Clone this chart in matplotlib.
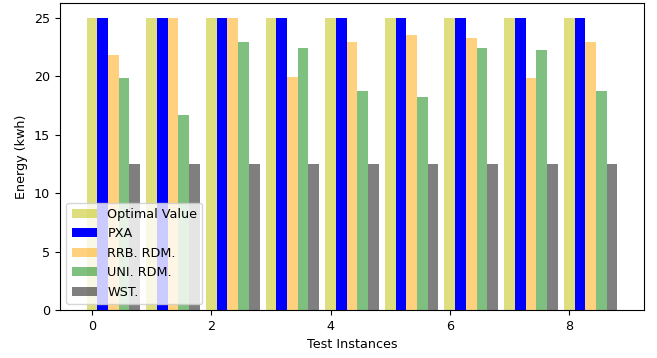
import matplotlib
matplotlib.use("Agg")
import matplotlib.pyplot as plt
import numpy as np

instances = np.arange(9)
optimal = [25, 25, 25, 25, 25, 25, 25, 25, 25]
pxa = [25, 25, 25, 25, 25, 25, 25, 25, 25]
rrb_rdm = [21.8, 25, 25, 19.9, 22.9, 23.5, 23.3, 19.8, 22.9]
uni_rdm = [19.8, 16.7, 22.9, 22.4, 18.7, 18.2, 22.4, 22.2, 18.7]
wst = [12.5, 12.5, 12.5, 12.5, 12.5, 12.5, 12.5, 12.5, 12.5]

width = 0.18

plt.rcParams["font.size"] = 9.2

fig, ax = plt.subplots(figsize=(6.57, 3.58), dpi=100)
fig.subplots_adjust(left=60 / 657, right=644 / 657, top=1 - 3 / 358, bottom=1 - 310 / 358)

ax.bar(instances, optimal, width, color="y", alpha=0.5, label="Optimal Value")
ax.bar(instances + width, pxa, width, color="b", label="PXA")
ax.bar(instances + 2 * width, rrb_rdm, width, color="orange", alpha=0.5, label="RRB. RDM.")
ax.bar(instances + 3 * width, uni_rdm, width, color="g", alpha=0.5, label="UNI. RDM.")
ax.bar(instances + 4 * width, wst, width, color="k", alpha=0.5, label="WST.")

ax.set_xlabel("Test Instances")
ax.set_ylabel("Energy (kwh)")
ax.legend(loc="lower left")

fig.savefig("out.png", dpi=100)
